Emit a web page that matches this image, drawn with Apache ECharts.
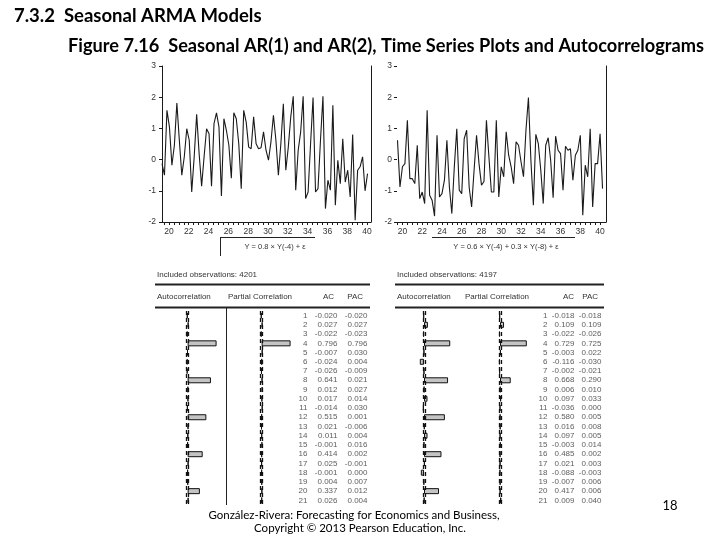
<!DOCTYPE html>
<html><head><meta charset="utf-8">
<script src="https://cdn.jsdelivr.net/npm/echarts@6/dist/echarts.min.js"></script>
<style>html,body{margin:0;padding:0;background:#fff}#c{width:720px;height:540px}</style>
</head><body><div id="c"></div>
<script>
// ---- data ----
const xStartA = 19.3, xStartB = 19.5, xStep = 0.25;
const seriesA = [-0.13,-0.5,1.58,1.05,-0.18,0.46,1.81,0.62,-0.5,0.09,0.99,0.62,-1.04,0.09,1.45,0.19,-0.85,0.09,0.99,0.83,-0.85,1.15,1.5,1.05,-1.17,1.31,0.94,0.46,-0.6,1.5,1.31,0.51,-0.93,1.58,1.2,0.4,0.35,1.37,0.51,0.35,0.38,0.89,0.3,-0.02,0.57,1.42,0.62,-0.5,0.51,1.79,-0.34,0.4,1.37,2.03,-0.98,0.3,0.89,2.03,-1.25,-1.04,0.51,1.99,-1.04,-0.93,0.62,2.03,-1.57,-0.66,-0.98,1.74,-1.46,-0.02,-0.77,0.67,-0.72,-0.34,-1.2,0.8,-1.94,-0.34,-0.23,0.09,-1.0,-0.45];
const seriesB = [0.62,-0.88,-0.23,-0.13,1.26,-0.61,-0.61,-0.77,0.46,-1.25,-1.04,-1.41,1.58,-1.14,-1.3,-1.81,0.78,-1.2,-1.09,-0.66,0.62,-0.88,-1.73,-0.23,0.99,-0.98,-1.09,0.67,0.94,-0.88,-1.52,-0.34,0.78,-0.13,-0.82,-0.7,1.26,0.09,-1.04,-1.04,1.26,-1.2,-0.23,-0.55,0.89,0.14,-0.23,-0.77,0.57,0.46,-0.07,-0.55,0.94,1.99,-0.02,-1.46,0.81,0.51,-0.34,-1.41,0.46,0.7,-0.02,-1.22,0.75,0.3,0.19,-0.98,0.43,0.3,0.35,-0.66,0.14,0.3,0.78,-1.78,-0.18,-0.55,0.99,-1.52,-0.13,-0.13,0.83,-0.93];
const xTickLabels = [20,22,24,26,28,30,32,34,36,38,40];
const xMinorTicks = [19.5,20,20.5,21,21.5,22,22.5,23,23.5,24,24.5,25,25.5,26,26.5,27,27.5,28,28.5,29,29.5,30,30.5,31,31.5,32,32.5,33,33.5,34,34.5,35,35.5,36,36.5,37,37.5,38,38.5,39,39.5,40];
const lags = [1,2,3,4,5,6,7,8,9,10,11,12,13,14,15,16,17,18,19,20,21];
const acA  = [-0.020,0.027,-0.022,0.796,-0.007,-0.024,-0.026,0.641,0.012,0.017,-0.014,0.515,0.021,0.011,-0.001,0.414,0.025,-0.001,0.004,0.337,0.026];
const pacA = [-0.020,0.027,-0.023,0.796,0.030,0.004,-0.009,0.021,0.027,0.014,0.030,0.001,-0.006,0.004,0.016,0.002,-0.001,0.000,0.007,0.012,0.004];
const acB  = [-0.018,0.109,-0.022,0.729,-0.003,-0.116,-0.002,0.668,0.006,0.097,-0.036,0.580,0.016,0.097,-0.003,0.485,0.021,-0.088,-0.007,0.417,0.009];
const pacB = [-0.018,0.109,-0.026,0.725,0.022,-0.030,-0.021,0.290,0.010,0.033,0.000,0.005,0.008,0.005,0.014,0.002,0.003,-0.003,0.006,0.006,0.040];
const obsA = 4201, obsB = 4197;
const eqA = 'Y = 0.8 × Y(-4) + ε';
const eqB = 'Y = 0.6 × Y(-4) + 0.3 × Y(-8) + ε';

// ---- build ----
const chart = echarts.init(document.getElementById('c'), null, {renderer:'canvas'});
const TF = 'Liberation Sans, Arial, sans-serif';
const SF = 'Lato, Open Sans, sans-serif';
const ink = '#1a1a1a';

function tsX(gi, min, max){
  return {type:'value', gridIndex:gi, min:min, max:max,
    axisLine:{show:true, onZero:false, lineStyle:{color:ink, width:1}},
    axisTick:{show:true, inside:false, length:3, customValues:xMinorTicks, lineStyle:{color:ink}},
    axisLabel:{show:true, customValues:xTickLabels, fontSize:8.5, color:'#333', margin:5, fontFamily:TF},
    splitLine:{show:false}};
}
function tsY(gi, showLine, margin){
  return {type:'value', gridIndex:gi, min:-2, max:3, interval:1,
    axisLine:{show:showLine, lineStyle:{color:ink, width:1}},
    axisTick:{show:true, length:3, lineStyle:{color:ink}},
    axisLabel:{fontSize:8.5, color:'#333', margin:margin, fontFamily:TF},
    splitLine:{show:false}};
}
function tsYRight(gi){
  return {type:'value', gridIndex:gi, min:-2, max:3, position:'right',
    axisLine:{show:true, lineStyle:{color:ink, width:1}},
    axisTick:{show:false}, axisLabel:{show:false}, splitLine:{show:false}};
}
function barX(gi, min, max){
  return {type:'value', gridIndex:gi, min:min, max:max, show:false};
}
function catY(gi){
  return {type:'category', gridIndex:gi, data:lags, inverse:true, show:false};
}
function barSeries(xi, vals, obs){
  const b = 2/Math.sqrt(obs);
  return {type:'bar', xAxisIndex:xi, yAxisIndex:xi, data:vals, barWidth:6, silent:true,
    itemStyle:{color:'#c4c4c4', borderColor:'#111', borderWidth:1},
    markLine:{silent:true, symbol:'none', label:{show:false},
      lineStyle:{color:'#111', type:[4,3], width:1.3},
      data:[{xAxis:-b},{xAxis:b}]}};
}
function textSeries(xi, ac, pac){
  const d = [];
  lags.forEach((l,i)=>{
    d.push({name:String(l), value:[0,i]});
    d.push({name:ac[i].toFixed(3), value:[1,i]});
    d.push({name:pac[i].toFixed(3), value:[2,i]});
  });
  return {type:'scatter', xAxisIndex:xi, yAxisIndex:xi, data:d, symbolSize:1, silent:true,
    itemStyle:{color:'rgba(0,0,0,0)'},
    label:{show:true, position:'left', distance:0, formatter:'{b}', fontSize:8, color:'#333', fontFamily:TF}};
}
function txtX(gi){ return {type:'category', gridIndex:gi, data:['lag','ac','pac'], show:false}; }

const grids = [
  {left:162, top:66, width:209, height:156},
  {left:397, top:66, width:209, height:156},
  {left:184, top:311, width:40, height:194},
  {left:258, top:311, width:40, height:194},
  {left:293, top:311, width:90, height:194},
  {left:416.8, top:311, width:43.2, height:194},
  {left:492.6, top:311, width:44.4, height:194},
  {left:534.5, top:311, width:81, height:194}
].map(g=>Object.assign({containLabel:false, outerBoundsMode:'none'}, g));

const xAxes = [tsX(0,19.3,40.4), tsX(1,19.45,40.6),
  barX(2,-0.1,1), barX(3,-0.1,1), txtX(4), barX(5,-0.2,1), barX(6,-0.2,1), txtX(7)];
const yAxes = [tsY(0,true,6), tsY(1,false,5),
  catY(2), catY(3), catY(4), catY(5), catY(6), catY(7), tsYRight(0), tsYRight(1)];

const lineStyle = {color:ink, width:1.1};
const series = [
  {type:'line', xAxisIndex:0, yAxisIndex:0, data:seriesA.map((v,i)=>[xStartA+i*xStep, v]), showSymbol:false, symbol:'none', lineStyle:lineStyle, silent:true, animation:false},
  {type:'line', xAxisIndex:1, yAxisIndex:1, data:seriesB.map((v,i)=>[xStartB+i*xStep, v]), showSymbol:false, symbol:'none', lineStyle:lineStyle, silent:true, animation:false},
  barSeries(2, acA, obsA), barSeries(3, pacA, obsA), textSeries(4, acA, pacA),
  barSeries(5, acB, obsB), barSeries(6, pacB, obsB), textSeries(7, acB, pacB)
];

function T(x,y,text,font,opt){
  opt = opt||{};
  return {type:'text', x:x, y:y, silent:true, style:{text:text, font:font, fill:opt.fill||'#000',
    align:opt.align||'left', verticalAlign:'middle', textAlign:opt.align||'left', textVerticalAlign:'middle'}};
}
function L(x1,y1,x2,y2,w){
  return {type:'line', silent:true, shape:{x1:x1,y1:y1,x2:x2,y2:y2}, style:{stroke:'#222', lineWidth:w||1}};
}
const tf = '8px '+TF;
const graphic = [
  T(14,16,'7.3.2  Seasonal ARMA Models','bold 18.5px '+SF),
  T(68,46,'Figure 7.16  Seasonal AR(1) and AR(2), Time Series Plots and Autocorrelograms','bold 18.2px '+SF),
  L(220,237.5,315,237.5,1), L(220.5,237,220.5,256,1),
  T(275,247,eqA,'7.5px '+TF,{align:'center', fill:'#333'}),
  L(432,237.5,575,237.5,1),
  T(506,247,eqB,'7.5px '+TF,{align:'center', fill:'#333'}),
  // left table
  T(157,275,'Included observations: '+obsA, tf,{fill:'#333'}),
  L(155,284.5,370,284.5,2),
  T(157,297,'Autocorrelation', tf,{fill:'#333'}),
  T(228,297,'Partial Correlation', tf,{fill:'#333'}),
  T(334,297,'AC', tf,{fill:'#333', align:'right'}),
  T(363,297,'PAC', tf,{fill:'#333', align:'right'}),
  L(155,307.5,370,307.5,2),
  L(226.5,308,226.5,505,1),
  // right table
  T(397,275,'Included observations: '+obsB, tf,{fill:'#333'}),
  L(395,284.5,604,284.5,2),
  T(397,297,'Autocorrelation', tf,{fill:'#333'}),
  T(465,297,'Partial Correlation', tf,{fill:'#333'}),
  T(574,297,'AC', tf,{fill:'#333', align:'right'}),
  T(598,297,'PAC', tf,{fill:'#333', align:'right'}),
  L(395,307.5,604,307.5,2),
  // footer
  T(354,515,'González-Rivera: Forecasting for Economics and Business,','11.5px '+SF,{align:'center'}),
  T(360,528,'Copyright © 2013 Pearson Education, Inc.','11.5px '+SF,{align:'center'}),
  T(670,506,'18','13px '+SF,{align:'center'})
];

chart.setOption({
  animation:false,
  backgroundColor:'#fff',
  grid:grids, xAxis:xAxes, yAxis:yAxes, series:series, graphic:graphic
});
</script></body></html>
